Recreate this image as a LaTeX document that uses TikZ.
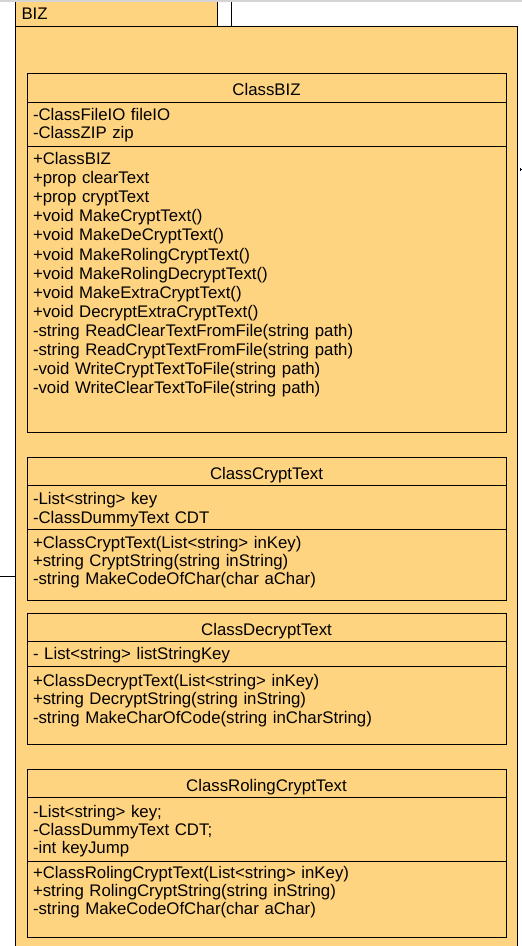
\documentclass[tikz,border=0pt]{standalone}
\usepackage{fontspec}
\setmainfont{Liberation Sans}
\usetikzlibrary{positioning}
\definecolor{umlfill}{RGB}{255,212,128}
\definecolor{framegray}{RGB}{212,212,212}
\newcommand{\memberfont}{\fontsize{16.8bp}{18.3bp}\selectfont}

\begin{document}
\begin{tikzpicture}[x=1bp,y=-1bp,line width=1bp,
    box/.style={draw,fill=umlfill,inner sep=0pt,outer sep=0pt,minimum width=479bp},
    classname/.style={box,minimum height=#1,font=\memberfont,text height=16.5bp,text depth=0pt},
    compart/.style={box,minimum height=#1},
    members/.style={anchor=north west,align=left,inner sep=0pt,text width=460bp,
                    font=\memberfont,execute at begin node={\rule{0pt}{13bp}}}]

\useasboundingbox (0,0) rectangle (522,946);

% package BIZ
\node[draw,fill=umlfill,inner sep=0pt,outer sep=0pt,anchor=north west,
      minimum width=502.5bp,minimum height=940bp] (pkg) at (15,26) {};
\node[draw,fill=umlfill,inner sep=0pt,outer sep=0pt,anchor=south west,
      minimum width=202bp,minimum height=32bp] (pkgtab) at (pkg.north west) {};
\node[anchor=base west,inner sep=0pt,font=\memberfont] (pkgname)
      at ([xshift=6bp,yshift=6.7bp]pkg.north west) {BIZ};
\coordinate (nextpkg) at (231,26);
\draw (nextpkg) -- ++(0,-32);
\fill[framegray] (0,0) rectangle (522,1.7);

% links leaving the package
\coordinate (linkL) at (0,576.7);
\draw[line width=0.8bp] (linkL) -- (linkL -| pkg.west);
\coordinate (linkR) at (519.5,169.5);
\draw[line width=0.8bp] (linkR) -- ++(3,0) (linkR) ++(1,-1.3) -- ++(0,2.6);

% ClassBIZ
\node[classname=29bp,anchor=north west] (bizhead) at (27,73) {ClassBIZ};
\node[compart=44bp,below=0pt of bizhead] (bizattr) {};
\node[compart=286bp,below=0pt of bizattr] (bizops) {};
\node[members] (bizattrtext) at ([xshift=5.5bp,yshift=-4.5bp]bizattr.north west)
  {-ClassFileIO fileIO\\-ClassZIP zip};
\node[members,font=\fontsize{16.8bp}{19.1bp}\selectfont] (bizopstext)
  at ([xshift=5.5bp,yshift=-5bp]bizops.north west)
  {+ClassBIZ\\
   +prop clearText\\
   +prop cryptText\\
   +void MakeCryptText()\\
   +void MakeDeCryptText()\\
   +void MakeRolingCryptText()\\
   +void MakeRolingDecryptText()\\
   +void MakeExtraCryptText()\\
   +void DecryptExtraCryptText()\\
   -string ReadClearTextFromFile(string path)\\
   -string ReadCryptTextFromFile(string path)\\
   -void WriteCryptTextToFile(string path)\\
   -void WriteClearTextToFile(string path)};

% ClassCryptText
\node[classname=28.7bp,below=25bp of bizops] (crypthead) {ClassCryptText};
\node[compart=43.6bp,below=0pt of crypthead] (cryptattr) {};
\node[compart=70.7bp,below=0pt of cryptattr] (cryptops) {};
\node[members] (cryptattrtext) at ([xshift=5.5bp,yshift=-5.6bp]cryptattr.north west)
  {-List<string> key\\-ClassDummyText CDT};
\node[members] (cryptopstext) at ([xshift=5.5bp,yshift=-5.4bp]cryptops.north west)
  {+ClassCryptText(List<string> inKey)\\
   +string CryptString(string inString)\\
   -string MakeCodeOfChar(char aChar)};

% ClassDecryptText
\node[classname=28.4bp,below=13.3bp of cryptops] (decrypthead) {ClassDecryptText};
\node[compart=25bp,below=0pt of decrypthead] (decryptattr) {};
\node[compart=77.3bp,below=0pt of decryptattr] (decryptops) {};
\node[members] (decryptattrtext) at ([xshift=5.5bp,yshift=-4.6bp]decryptattr.north west)
  {- List<string> listStringKey};
\node[members] (decryptopstext) at ([xshift=5.5bp,yshift=-6.3bp]decryptops.north west)
  {+ClassDecryptText(List<string> inKey)\\
   +string DecryptString(string inString)\\
   -string MakeCharOfCode(string inCharString)};

% ClassRolingCryptText
\node[classname=28.4bp,below=25.3bp of decryptops] (rolinghead) {ClassRolingCryptText};
\node[compart=63.3bp,below=0pt of rolinghead] (rolingattr) {};
\node[compart=76bp,below=0pt of rolingattr] (rolingops) {};
\node[members,font=\fontsize{16.8bp}{17.8bp}\selectfont] (rolingattrtext)
  at ([xshift=5.5bp,yshift=-6.6bp]rolingattr.north west)
  {-List<string> key;\\-ClassDummyText CDT;\\-int keyJump};
\node[members] (rolingopstext) at ([xshift=5.5bp,yshift=-3.7bp]rolingops.north west)
  {+ClassRolingCryptText(List<string> inKey)\\
   +string RolingCryptString(string inString)\\
   -string MakeCodeOfChar(char aChar)};
\end{tikzpicture}
\end{document}
